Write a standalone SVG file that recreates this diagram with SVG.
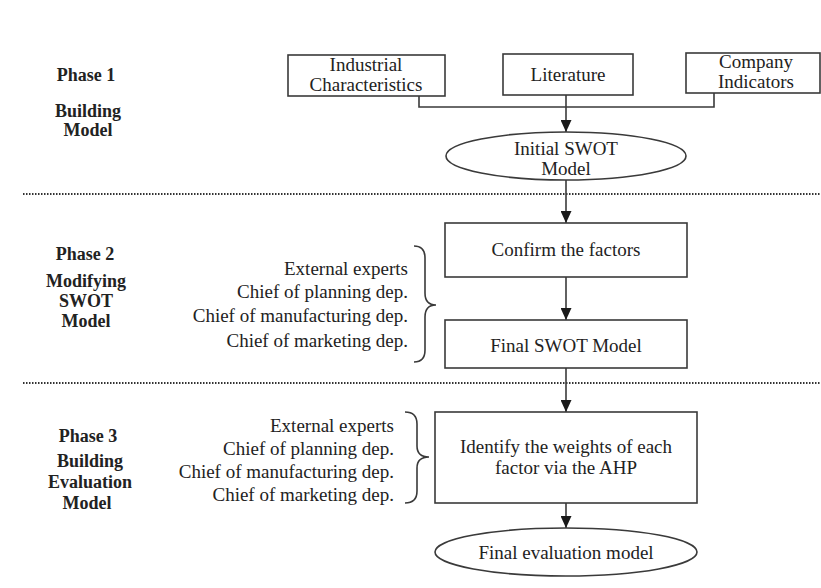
<svg xmlns="http://www.w3.org/2000/svg" width="821" height="588" viewBox="0 0 821 588">
<style>
text{font-family:"Liberation Serif","Times New Roman",serif;fill:#222;font-size:19px}
.b{font-weight:bold;font-size:18px;text-anchor:middle}
.c{text-anchor:middle}
.r{text-anchor:end}
.box{fill:#fff;stroke:#3a3a3a;stroke-width:1.6}
.ln{fill:none;stroke:#3a3a3a;stroke-width:1.6}
.dot{stroke:#333;stroke-width:2;stroke-dasharray:1.5 1.5;fill:none}
</style>
<defs>
<marker id="ah" viewBox="0 0 12 11" refX="12" refY="5.5" markerWidth="12" markerHeight="11" markerUnits="userSpaceOnUse" orient="auto">
<path d="M0,0 L12,5.5 L0,11 Z" fill="#1a1a1a"/>
</marker>
</defs>
<rect width="821" height="588" fill="#fff"/>

<g id="separators">
<line class="dot" x1="23" y1="194" x2="821" y2="194"/>
<line class="dot" x1="23" y1="383" x2="821" y2="383"/>
</g>

<g id="phase1">
<text class="b" x="86" y="81">Phase 1</text>
<text class="b" x="88" y="117">Building</text>
<text class="b" x="88" y="136">Model</text>
</g>
<g id="phase2">
<text class="b" x="85" y="260">Phase 2</text>
<text class="b" x="86" y="287">Modifying</text>
<text class="b" x="86" y="307">SWOT</text>
<text class="b" x="86" y="327">Model</text>
</g>
<g id="phase3">
<text class="b" x="88" y="442">Phase 3</text>
<text class="b" x="90" y="467">Building</text>
<text class="b" x="90" y="488">Evaluation</text>
<text class="b" x="87" y="509">Model</text>
</g>

<g id="connectors">
<polyline class="ln" points="419,96 419,107 714,107 714,93"/>
<line class="ln" x1="566" y1="95" x2="566" y2="132" marker-end="url(#ah)"/>
<line class="ln" x1="566" y1="180" x2="566" y2="223" marker-end="url(#ah)"/>
<line class="ln" x1="566" y1="277" x2="566" y2="320" marker-end="url(#ah)"/>
<line class="ln" x1="566" y1="368" x2="566" y2="412" marker-end="url(#ah)"/>
<line class="ln" x1="566" y1="503" x2="566" y2="528" marker-end="url(#ah)"/>
</g>

<g id="industrial">
<rect class="box" x="288" y="55" width="157" height="41"/>
<text class="c" x="366" y="71">Industrial</text>
<text class="c" x="366" y="91">Characteristics</text>
</g>
<g id="literature">
<rect class="box" x="503" y="54" width="130" height="41"/>
<text class="c" x="568" y="81">Literature</text>
</g>
<g id="company">
<rect class="box" x="686" y="53" width="134" height="40"/>
<text class="c" x="756" y="68">Company</text>
<text class="c" x="756" y="88">Indicators</text>
</g>
<g id="initial-swot">
<ellipse class="box" cx="566" cy="156" rx="120" ry="24"/>
<text class="c" x="566" y="155">Initial SWOT</text>
<text class="c" x="566" y="175">Model</text>
</g>

<g id="experts2">
<text class="r" x="408" y="275">External experts</text>
<text class="r" x="408" y="298">Chief of planning dep.</text>
<text class="r" x="408" y="322">Chief of manufacturing dep.</text>
<text class="r" x="408" y="347">Chief of marketing dep.</text>
<path class="ln" d="M414,246 Q425,246 425,258 L425,293 Q425,305 436,305 Q425,305 425,317 L425,350 Q425,362 414,362"/>
</g>
<g id="confirm">
<rect class="box" x="445" y="223" width="242" height="54"/>
<text class="c" x="566" y="256">Confirm the factors</text>
</g>
<g id="final-swot">
<rect class="box" x="445" y="320" width="242" height="48"/>
<text class="c" x="566" y="352">Final SWOT Model</text>
</g>

<g id="experts3">
<text class="r" x="394" y="432">External experts</text>
<text class="r" x="394" y="455">Chief of planning dep.</text>
<text class="r" x="394" y="478">Chief of manufacturing dep.</text>
<text class="r" x="394" y="501">Chief of marketing dep.</text>
<path class="ln" d="M405,412 Q417,412 417,424 L417,446 Q417,457 429,457 Q417,457 417,468 L417,491 Q417,503 405,503"/>
</g>
<g id="ahp">
<rect class="box" x="435" y="412" width="262" height="91"/>
<text class="c" x="566" y="453">Identify the weights of each</text>
<text class="c" x="566" y="474">factor via the AHP</text>
</g>
<g id="final-eval">
<ellipse class="box" cx="566" cy="552" rx="131" ry="24"/>
<text class="c" x="566" y="559">Final evaluation model</text>
</g>
</svg>
